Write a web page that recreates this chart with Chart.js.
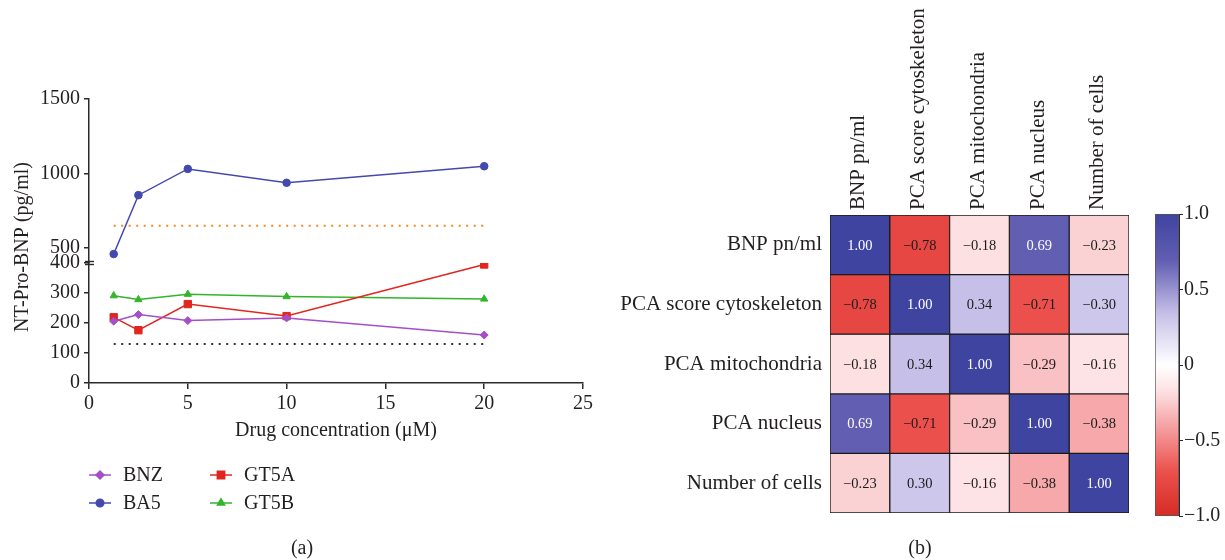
<!DOCTYPE html>
<html>
<head>
<meta charset="utf-8">
<title>NT-Pro-BNP and correlation matrix</title>
<script src="https://cdn.jsdelivr.net/npm/chart.js@4.4.1/dist/chart.umd.min.js"></script>
<style>
  body { margin: 0; background: #fff; }
  #wrap { position: relative; width: 1225px; height: 560px; overflow: hidden; font-family: 'Liberation Serif', serif; color: #231f20; }
  canvas { position: absolute; top: 0; }
  #lineChart { left: 0; }
  #heatChart { left: 600px; }
  #scaleChart { left: 1140px; }
  .cap { position: absolute; top: 536px; font-size: 20px; transform: translateX(-50%); }
</style>
</head>
<body>
<div id="wrap">
  <canvas id="lineChart" width="600" height="560"></canvas>
  <canvas id="heatChart" width="540" height="560"></canvas>
  <canvas id="scaleChart" width="85" height="560"></canvas>
  <div class="cap" style="left:302px">(a)</div>
  <div class="cap" style="left:920px">(b)</div>
</div>
<script>
// (a) NT-Pro-BNP against drug concentration
const concentrations = [1.25, 2.5, 5, 10, 20];
const bnz = [206, 228, 208, 217, 160];
const ba5 = [460, 855, 1031, 938, 1049];
const gt5a = [219, 176, 263, 223, 395];
const gt5b = [291, 278, 296, 288, 280];
const refLineX = [1.25, 20];
const upperRef = 650;
const lowerRef = 130;
const xTicks = [0, 5, 10, 15, 20, 25];
const upperTicks = [500, 1000, 1500];
const lowerTicks = [0, 100, 200, 300, 400];

// (b) correlation matrix
const variables = ['BNP pn/ml', 'PCA score cytoskeleton', 'PCA mitochondria', 'PCA nucleus', 'Number of cells'];
const corr = [
  [1.00, -0.78, -0.18, 0.69, -0.23],
  [-0.78, 1.00, 0.34, -0.71, 0.30],
  [-0.18, 0.34, 1.00, -0.29, -0.16],
  [0.69, -0.71, -0.29, 1.00, -0.38],
  [-0.23, 0.30, -0.16, -0.38, 1.00]
];
// the figure prints this cell with a minus sign although it is coloured as +0.30
const misprint = { row: 1, col: 4, text: '\u22120.30' };
const colorbarTicks = [1, 0.5, 0, -0.5, -1];

const serif = "'Liberation Serif', 'Times New Roman', serif";
Chart.defaults.font.family = serif;
Chart.defaults.color = '#231f20';
const axisColor = '#2b2b2b';

function minus(v, digits) {
  if (v === 0) return '0';
  const t = Math.abs(v).toFixed(digits);
  return v < 0 ? '\u2212' + t : t;
}

// colour stops of the diverging scale (blue positive, red negative)
const posStops = [[0, [255, 255, 255]], [0.34, [198, 192, 232]], [0.69, [98, 94, 178]], [1, [62, 68, 160]]];
const negStops = [[0, [255, 255, 255]], [0.18, [253, 224, 226]], [0.38, [246, 168, 170]], [0.71, [235, 80, 76]], [1, [214, 44, 36]]];

function corrColor(v) {
  const stops = v >= 0 ? posStops : negStops;
  const t = Math.min(1, Math.abs(v));
  for (let i = 1; i < stops.length; i++) {
    if (t <= stops[i][0]) {
      const [t0, c0] = stops[i - 1];
      const [t1, c1] = stops[i];
      const f = (t - t0) / (t1 - t0);
      const c = c0.map((a, k) => Math.round(a + (c1[k] - a) * f));
      return `rgb(${c[0]},${c[1]},${c[2]})`;
    }
  }
  return 'rgb(' + stops[stops.length - 1][1].join(',') + ')';
}

function series(label, ys, color, style, radius, axis) {
  return {
    label: label,
    data: concentrations.map((x, i) => ({ x: x, y: ys[i] })),
    yAxisID: axis,
    borderColor: color,
    backgroundColor: color,
    borderWidth: 1.5,
    pointStyle: style,
    pointRadius: radius,
    pointHoverRadius: radius,
    pointBorderWidth: 1
  };
}

function refLine(y, color, axis) {
  return {
    label: '',
    isRef: true,
    data: refLineX.map(x => ({ x: x, y: y })),
    yAxisID: axis,
    borderColor: color,
    borderWidth: 2,
    borderDash: [2, 5.5],
    pointRadius: 0
  };
}

const tickGrid = { display: true, drawOnChartArea: false, drawTicks: true, tickLength: 5, color: axisColor, lineWidth: 1.5 };

// y-axis title, the break marks and the two-column legend
const panelA = {
  id: 'panelA',
  afterDraw(chart) {
    const { ctx, chartArea } = chart;
    ctx.save();
    ctx.fillStyle = '#231f20';
    ctx.font = '20px ' + serif;
    ctx.textAlign = 'center';
    ctx.textBaseline = 'middle';
    ctx.translate(23, (chartArea.top + chartArea.bottom) / 2 + 6);
    ctx.rotate(-Math.PI / 2);
    ctx.fillText('NT-Pro-BNP (pg/ml)', 0, 0);
    ctx.restore();

    // break marks where the two y segments meet
    const yb = chart.scales.y.top;
    ctx.save();
    ctx.strokeStyle = axisColor;
    ctx.lineWidth = 1.4;
    [-1.5, 1.5].forEach(d => {
      ctx.beginPath();
      ctx.moveTo(chartArea.left - 4, yb + d);
      ctx.lineTo(chartArea.left + 5, yb + d);
      ctx.stroke();
    });
    ctx.restore();

    // legend
    const items = chart.data.datasets.filter(ds => !ds.isRef);
    ctx.save();
    ctx.font = '20px ' + serif;
    ctx.textBaseline = 'middle';
    ctx.textAlign = 'left';
    items.forEach((ds, i) => {
      const x0 = chartArea.left + Math.floor(i / 2) * 121;
      const y0 = chartArea.bottom + 92 + (i % 2) * 28;
      ctx.strokeStyle = ds.borderColor;
      ctx.lineWidth = 1.5;
      ctx.beginPath();
      ctx.moveTo(x0, y0);
      ctx.lineTo(x0 + 22, y0);
      ctx.stroke();
      ctx.fillStyle = ds.backgroundColor;
      Chart.helpers.drawPoint(ctx, { pointStyle: ds.pointStyle, radius: ds.pointRadius, rotation: 0, borderWidth: 1 }, x0 + 11, y0);
      ctx.fillStyle = '#231f20';
      ctx.fillText(ds.label, x0 + 34, y0 + 1);
    });
    ctx.restore();
  }
};

const yTickOpts = { padding: 4, autoSkip: false, font: { size: 20 }, callback: v => String(v) };

new Chart(document.getElementById('lineChart'), {
  type: 'line',
  data: {
    datasets: [
      series('BNZ', bnz, '#a44fc8', 'rectRot', 4, 'y'),
      series('BA5', ba5, '#4349ad', 'circle', 3.8, 'y2'),
      series('GT5A', gt5a, '#e0261e', 'rect', 5.2, 'y'),
      series('GT5B', gt5b, '#33b52b', 'triangle', 4.2, 'y'),
      refLine(upperRef, '#f5891f', 'y2'),
      refLine(lowerRef, '#333333', 'y')
    ]
  },
  options: {
    responsive: false,
    animation: false,
    layout: { padding: { left: 29, top: 99, right: 17, bottom: 115 } },
    plugins: { legend: { display: false }, tooltip: { enabled: false } },
    scales: {
      x: {
        type: 'linear', min: 0, max: 25,
        afterBuildTicks: s => { s.ticks = xTicks.map(v => ({ value: v })); },
        afterFit: s => { s.height = 62; },
        grid: Object.assign({}, tickGrid, { tickLength: 6 }),
        border: { color: axisColor, width: 1.5 },
        ticks: { padding: 3, autoSkip: false, font: { size: 20 }, callback: v => String(v) },
        title: { display: true, text: 'Drug concentration (\u03bcM)', font: { size: 20 }, padding: { top: 4, bottom: 2 } }
      },
      y: {
        type: 'linear', position: 'left', stack: 'bnp', stackWeight: 120, min: 0, max: 400,
        afterBuildTicks: s => { s.ticks = lowerTicks.map(v => ({ value: v })); },
        afterFit: s => { s.width = 60; },
        grid: tickGrid,
        border: { color: axisColor, width: 1.5 },
        ticks: yTickOpts
      },
      y2: {
        type: 'linear', position: 'left', stack: 'bnp', stackWeight: 164, min: 400, max: 1500,
        afterBuildTicks: s => { s.ticks = upperTicks.map(v => ({ value: v })); },
        afterFit: s => { s.width = 60; },
        grid: tickGrid,
        border: { color: axisColor, width: 1.5 },
        ticks: yTickOpts
      }
    }
  },
  plugins: [panelA]
});

// (b) heatmap: one floating bar per cell
function cellText(r, c) {
  if (r === misprint.row && c === misprint.col) return misprint.text;
  return minus(corr[r][c], 2);
}

const cellLabels = {
  id: 'cellLabels',
  afterDatasetsDraw(chart) {
    const ctx = chart.ctx;
    ctx.save();
    ctx.font = '14.5px ' + serif;
    ctx.textAlign = 'center';
    ctx.textBaseline = 'middle';
    chart.data.datasets.forEach((ds, r) => {
      chart.getDatasetMeta(r).data.forEach((bar, c) => {
        ctx.fillStyle = corr[r][c] > 0.5 ? '#ffffff' : '#1a1a1a';
        ctx.fillText(cellText(r, c), bar.x, (bar.y + bar.base) / 2 + 1);
      });
    });
    ctx.restore();
  }
};

new Chart(document.getElementById('heatChart'), {
  type: 'bar',
  data: {
    labels: variables,
    datasets: variables.map((name, r) => ({
      label: name,
      data: variables.map(() => [r, r + 1]),
      backgroundColor: corr[r].map(corrColor),
      borderColor: '#1a1a1a',
      borderWidth: 1,
      borderSkipped: false,
      grouped: false,
      barPercentage: 1,
      categoryPercentage: 1
    }))
  },
  options: {
    responsive: false,
    animation: false,
    layout: { padding: { left: 0, top: 0, right: 11, bottom: 47 } },
    plugins: { legend: { display: false }, tooltip: { enabled: false } },
    scales: {
      x: {
        type: 'category', position: 'top',
        afterFit: s => { s.height = 215; },
        grid: { display: false, drawTicks: false },
        border: { display: false },
        ticks: { autoSkip: false, minRotation: 90, maxRotation: 90, padding: 5, labelOffset: 24, font: { size: 21 } }
      },
      y: {
        type: 'linear', min: 0, max: 5, reverse: true,
        afterBuildTicks: s => { s.ticks = variables.map((_, i) => ({ value: i + 0.5 })); },
        afterFit: s => { s.width = 230; },
        grid: { display: false, drawTicks: false },
        border: { display: false },
        ticks: { padding: 8, font: { size: 21 }, callback: v => variables[Math.floor(v)] }
      }
    }
  },
  plugins: [cellLabels]
});

// colour bar
function barGradient(c) {
  const { chart } = c;
  const area = chart.chartArea;
  if (!area) return null;
  const g = chart.ctx.createLinearGradient(0, area.top, 0, area.bottom);
  for (let i = 0; i <= 40; i++) {
    g.addColorStop(i / 40, corrColor(1 - i / 20));
  }
  return g;
}

new Chart(document.getElementById('scaleChart'), {
  type: 'bar',
  data: {
    labels: [''],
    datasets: [{
      data: [[colorbarTicks[colorbarTicks.length - 1], colorbarTicks[0]]],
      backgroundColor: barGradient,
      borderColor: '#555555',
      borderWidth: 1,
      borderSkipped: false,
      barPercentage: 1,
      categoryPercentage: 1
    }]
  },
  options: {
    responsive: false,
    animation: false,
    layout: { padding: { left: 15, top: 214, right: 0, bottom: 44 } },
    plugins: { legend: { display: false }, tooltip: { enabled: false } },
    scales: {
      x: { display: false },
      y: {
        position: 'right', min: -1, max: 1,
        afterBuildTicks: s => { s.ticks = colorbarTicks.map(v => ({ value: v })); },
        afterFit: s => { s.width = 46; },
        grid: { display: true, drawOnChartArea: false, tickLength: 4, color: axisColor },
        border: { color: axisColor },
        ticks: { padding: 1, autoSkip: false, font: { size: 20 }, callback: v => minus(v, 1) }
      }
    }
  }
});
</script>
</body>
</html>
